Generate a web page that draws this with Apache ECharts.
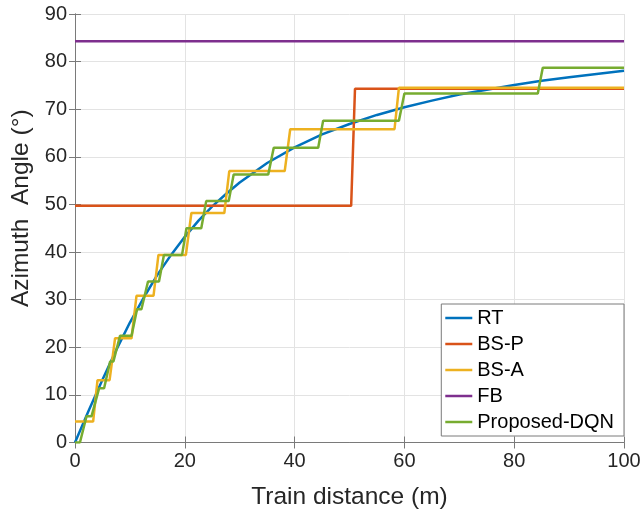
<!DOCTYPE html>
<html>
<head>
<meta charset="utf-8">
<script src="https://cdn.jsdelivr.net/npm/echarts@6/dist/echarts.min.js"></script>
<style>
html, body { margin: 0; padding: 0; background: #fff; }
#chart { width: 643px; height: 510px; }
</style>
</head>
<body>
<div id="chart"></div>
<script>
// data (x: train distance in m, y: azimuth angle in deg)
var rtX = [0, 2.5, 5, 7.5, 10, 12.5, 15, 17.5, 20, 22.5, 25, 27.5, 30, 35, 40, 45, 50, 55, 60, 65, 70, 75, 80, 85, 90, 95, 100];
var rtY = [0, 6.7, 13.2, 19.4, 25.2, 30.4, 35.2, 39.4, 43.2, 46.6, 49.6, 52.2, 54.6, 58.7, 62.0, 64.7, 66.9, 68.8, 70.4, 71.8, 73.1, 74.1, 75.1, 76.0, 76.7, 77.4, 78.1];

var bspX = [0, 50.3, 51.0, 100];
var bspY = [49.7, 49.7, 74.3, 74.3];

var bsaX = [0, 3.3, 4.1, 6.3, 7.3, 10.3, 11.2, 14.3, 15.2, 20.2, 21.2, 27.2, 28.1, 38.2, 39.2, 58.2, 59.0, 100];
var bsaY = [4.4, 4.4, 13.1, 13.1, 21.9, 21.9, 30.8, 30.8, 39.4, 39.4, 48.2, 48.2, 57.0, 57.0, 65.8, 65.8, 74.5, 74.5];

var fbX = [0, 100];
var fbY = [84.3, 84.3];

var dqnX = [0, 0.9, 2.1, 3.0, 4.4, 5.3, 6.4, 7.0, 8.2, 10.3, 11.3, 12.1, 13.3, 15.3, 16.2, 19.5, 20.3, 23.0, 23.9, 28.0, 28.9, 35.2, 36.2, 44.3, 45.2, 59.0, 60.0, 84.3, 85.2, 100];
var dqnY = [0, 0, 5.5, 5.5, 11.4, 11.4, 17.0, 17.0, 22.4, 22.4, 28.0, 28.0, 33.8, 33.8, 39.4, 39.4, 45.0, 45.0, 50.7, 50.7, 56.3, 56.3, 61.9, 61.9, 67.6, 67.6, 73.3, 73.3, 78.7, 78.7];

var names = ['RT', 'BS-P', 'BS-A', 'FB', 'Proposed-DQN'];
var colors = ['#0072BD', '#D95319', '#EDB120', '#7E2F8E', '#77AC30'];

function pairs (xs, ys) {
  var out = [];
  for (var i = 0; i < xs.length; i++) {
    out.push([xs[i], ys[i]]);
  }
  return out;
}

var chart = echarts.init(document.getElementById('chart'));
var font = 'Liberation Sans, Arial, sans-serif';
var textColor = '#262626';
var boxColor = '#7a7a7a';

function mkSeries (name, xs, ys, color) {
  return {
    name: name,
    type: 'line',
    data: pairs(xs, ys),
    showSymbol: false,
    symbol: 'none',
    lineStyle: { color: color, width: 2.5 },
    itemStyle: { color: color },
    animation: false
  };
}

var option = {
  backgroundColor: '#fff',
  animation: false,
  grid: { left: 75, right: 19, top: 14, bottom: 67.5, containLabel: false, outerBoundsMode: 'none' },
  legend: {
    orient: 'vertical',
    right: 19,
    top: 304,
    data: names,
    icon: 'rect',
    itemWidth: 27,
    itemHeight: 2.5,
    itemGap: 6,
    padding: [4, 10, 4, 4],
    backgroundColor: '#fff',
    borderColor: boxColor,
    borderWidth: 1,
    borderRadius: 0,
    textStyle: { fontFamily: font, fontSize: 20, color: '#000', lineHeight: 20 }
  },
  xAxis: [
    {
      type: 'value',
      min: 0, max: 100, interval: 20,
      name: 'Train distance (m)',
      nameLocation: 'middle',
      nameGap: 42,
      nameTextStyle: { fontFamily: font, fontSize: 24.5, color: textColor },
      axisLine: { show: true, lineStyle: { color: boxColor, width: 1 } },
      axisTick: { show: true, inside: true, length: 6, lineStyle: { color: boxColor } },
      axisLabel: { fontFamily: font, fontSize: 20, color: textColor, margin: 9 },
      splitLine: { show: true, lineStyle: { color: '#e3e3e3', width: 1 } }
    },
    {
      type: 'value', position: 'top',
      min: 0, max: 100, interval: 20,
      axisLine: { show: true, lineStyle: { color: boxColor, width: 1 } },
      axisTick: { show: true, inside: true, length: 6, lineStyle: { color: boxColor } },
      axisLabel: { show: false },
      splitLine: { show: false }
    }
  ],
  yAxis: [
    {
      type: 'value',
      min: 0, max: 90, interval: 10,
      name: 'Azimuth  Angle (°)',
      nameLocation: 'middle',
      nameGap: 34,
      nameTextStyle: { fontFamily: font, fontSize: 24.5, color: textColor, padding: [0, 0, 0, 40] },
      axisLine: { show: true, lineStyle: { color: boxColor, width: 1 } },
      axisTick: { show: true, inside: true, length: 6, lineStyle: { color: boxColor } },
      axisLabel: { fontFamily: font, fontSize: 20, color: textColor, margin: 8 },
      splitLine: { show: true, lineStyle: { color: '#e3e3e3', width: 1 } }
    },
    {
      type: 'value', position: 'right',
      min: 0, max: 90, interval: 10,
      axisLine: { show: true, lineStyle: { color: boxColor, width: 1 } },
      axisTick: { show: true, inside: true, length: 6, lineStyle: { color: boxColor } },
      axisLabel: { show: false },
      splitLine: { show: false }
    }
  ],
  series: [
    mkSeries(names[0], rtX, rtY, colors[0]),
    mkSeries(names[1], bspX, bspY, colors[1]),
    mkSeries(names[2], bsaX, bsaY, colors[2]),
    mkSeries(names[3], fbX, fbY, colors[3]),
    mkSeries(names[4], dqnX, dqnY, colors[4])
  ]
};

chart.setOption(option);
</script>
</body>
</html>
